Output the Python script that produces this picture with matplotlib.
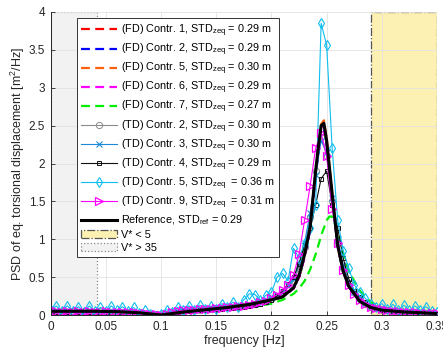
import matplotlib
matplotlib.use('Agg')
import matplotlib.pyplot as plt
import numpy as np

plt.rcParams['font.family'] = ['Liberation Sans', 'DejaVu Sans']
plt.rcParams['mathtext.fontset'] = 'custom'
plt.rcParams['mathtext.rm'] = 'Liberation Sans'
plt.rcParams['mathtext.it'] = 'Liberation Sans'

# frequency grid of the FD / reference spectra
f_fd = [0, 0.02, 0.04, 0.06, 0.08, 0.10, 0.12, 0.14, 0.16, 0.18, 0.20, 0.21, 0.22,
        0.225, 0.23, 0.235, 0.24, 0.2425, 0.245, 0.2475, 0.25, 0.2525, 0.255, 0.26,
        0.265, 0.27, 0.28, 0.29, 0.30, 0.32, 0.35]

fd1 = [0.05, 0.05, 0.05, 0.045, 0.03, 0.0, 0.04, 0.07, 0.10, 0.14, 0.20, 0.24, 0.35,
       0.50, 0.77, 1.13, 1.85, 2.17, 2.46, 2.48, 2.26, 1.92, 1.57, 0.90, 0.57, 0.38,
       0.18, 0.10, 0.065, 0.04, 0.02]
fd2 = [0.05, 0.05, 0.05, 0.045, 0.03, 0.0, 0.04, 0.07, 0.10, 0.14, 0.20, 0.24, 0.35,
       0.50, 0.76, 1.12, 1.83, 2.15, 2.44, 2.46, 2.25, 1.91, 1.56, 0.90, 0.57, 0.38,
       0.18, 0.10, 0.065, 0.04, 0.02]
fd5 = [0.05, 0.05, 0.05, 0.045, 0.03, 0.0, 0.04, 0.07, 0.10, 0.14, 0.20, 0.24, 0.36,
       0.51, 0.78, 1.16, 1.88, 2.22, 2.52, 2.57, 2.33, 1.97, 1.61, 0.92, 0.58, 0.39,
       0.18, 0.10, 0.065, 0.04, 0.02]
fd6 = [0.05, 0.05, 0.05, 0.045, 0.03, 0.0, 0.04, 0.07, 0.10, 0.14, 0.20, 0.24, 0.35,
       0.50, 0.77, 1.14, 1.86, 2.19, 2.48, 2.50, 2.28, 1.93, 1.58, 0.91, 0.58, 0.38,
       0.18, 0.10, 0.065, 0.04, 0.02]
fd7 = [0.04, 0.04, 0.04, 0.04, 0.03, 0.01, 0.03, 0.05, 0.07, 0.10, 0.15, 0.20, 0.28,
       0.35, 0.45, 0.60, 0.80, 0.92, 1.05, 1.15, 1.25, 1.30, 1.30, 1.10, 0.80, 0.58,
       0.32, 0.17, 0.10, 0.05, 0.02]
ref = [0.05, 0.05, 0.05, 0.045, 0.03, 0.0, 0.04, 0.07, 0.10, 0.14, 0.20, 0.24, 0.36,
       0.52, 0.80, 1.15, 1.90, 2.22, 2.50, 2.53, 2.30, 1.95, 1.60, 0.92, 0.58, 0.38,
       0.18, 0.10, 0.065, 0.04, 0.02]

# frequency grid of the TD spectra
f_td = [0.000, 0.005, 0.010, 0.015, 0.020, 0.025, 0.030, 0.035, 0.040, 0.045,
        0.050, 0.055, 0.060, 0.065, 0.070, 0.075, 0.080, 0.085, 0.090, 0.095,
        0.100, 0.105, 0.110, 0.115, 0.120, 0.125, 0.130, 0.135, 0.140, 0.145,
        0.150, 0.155, 0.160, 0.165, 0.170, 0.175, 0.180, 0.185, 0.190, 0.195,
        0.200, 0.205, 0.210, 0.215, 0.220, 0.225, 0.230, 0.235, 0.240, 0.245,
        0.250, 0.255, 0.260, 0.265, 0.270, 0.275, 0.280, 0.285, 0.290, 0.295,
        0.300, 0.305, 0.310, 0.315, 0.320, 0.325, 0.330, 0.335, 0.340, 0.345, 0.350]

td2 = [0.05, 0.04, 0.05, 0.045, 0.05, 0.04, 0.05, 0.045, 0.04, 0.05,
       0.045, 0.04, 0.045, 0.04, 0.035, 0.035, 0.03, 0.02, 0.015, 0.01,
       0.005, 0.02, 0.035, 0.05, 0.055, 0.065, 0.07, 0.07, 0.08, 0.085,
       0.09, 0.09, 0.10, 0.11, 0.11, 0.12, 0.13, 0.14, 0.16, 0.18,
       0.21, 0.25, 0.30, 0.36, 0.45, 0.62, 0.90, 1.30, 1.90, 2.35,
       2.10, 1.50, 0.95, 0.62, 0.42, 0.30, 0.21, 0.15, 0.11, 0.09,
       0.07, 0.06, 0.055, 0.05, 0.04, 0.04, 0.035, 0.03, 0.03, 0.025, 0.02]
td3 = [0.04, 0.05, 0.045, 0.04, 0.05, 0.045, 0.04, 0.05, 0.045, 0.04,
       0.05, 0.045, 0.04, 0.04, 0.04, 0.03, 0.03, 0.025, 0.01, 0.005,
       0.01, 0.025, 0.04, 0.045, 0.06, 0.06, 0.065, 0.075, 0.08, 0.08,
       0.09, 0.10, 0.10, 0.105, 0.115, 0.12, 0.13, 0.145, 0.17, 0.19,
       0.22, 0.26, 0.31, 0.38, 0.48, 0.66, 0.95, 1.35, 1.85, 2.30,
       2.15, 1.55, 1.00, 0.66, 0.44, 0.31, 0.22, 0.16, 0.12, 0.09,
       0.075, 0.06, 0.055, 0.05, 0.045, 0.04, 0.035, 0.03, 0.03, 0.025, 0.02]
td4 = [0.04, 0.04, 0.04, 0.045, 0.04, 0.04, 0.045, 0.04, 0.04, 0.04,
       0.04, 0.04, 0.04, 0.035, 0.035, 0.03, 0.025, 0.02, 0.01, 0.0,
       0.0, 0.015, 0.03, 0.04, 0.05, 0.055, 0.06, 0.065, 0.07, 0.075,
       0.08, 0.085, 0.09, 0.095, 0.10, 0.11, 0.12, 0.13, 0.15, 0.17,
       0.20, 0.25, 0.32, 0.41, 0.50, 0.68, 0.92, 1.15, 1.45, 1.80,
       1.90, 1.45, 1.15, 0.75, 0.48, 0.32, 0.24, 0.17, 0.12, 0.09,
       0.07, 0.06, 0.05, 0.045, 0.04, 0.035, 0.03, 0.03, 0.025, 0.02, 0.02]
td5 = [0.06, 0.12, 0.05, 0.12, 0.05, 0.11, 0.04, 0.12, 0.05, 0.10,
       0.05, 0.12, 0.06, 0.11, 0.05, 0.10, 0.03, 0.06, 0.01, -0.01,
       0.02, 0.07, 0.04, 0.10, 0.06, 0.12, 0.07, 0.13, 0.08, 0.12,
       0.08, 0.15, 0.10, 0.17, 0.11, 0.20, 0.28, 0.27, 0.20, 0.26,
       0.30, 0.50, 0.55, 0.45, 0.88, 0.75, 0.95, 1.15, 1.45, 3.85,
       3.56, 2.20, 1.25, 0.85, 0.62, 0.40, 0.30, 0.22, 0.15, 0.10,
       0.15, 0.08, 0.14, 0.07, 0.13, 0.06, 0.12, 0.06, 0.11, 0.05, 0.04]
td9 = [0.05, 0.05, 0.045, 0.05, 0.045, 0.05, 0.045, 0.05, 0.045, 0.045,
       0.05, 0.045, 0.04, 0.045, 0.04, 0.035, 0.03, 0.025, 0.015, 0.01,
       0.005, 0.02, 0.04, 0.05, 0.06, 0.065, 0.07, 0.075, 0.08, 0.085,
       0.09, 0.095, 0.10, 0.11, 0.115, 0.12, 0.13, 0.15, 0.17, 0.19,
       0.22, 0.27, 0.33, 0.40, 0.53, 0.80, 1.25, 1.70, 2.20, 2.40,
       2.10, 1.40, 0.95, 0.60, 0.40, 0.28, 0.20, 0.15, 0.11, 0.09,
       0.075, 0.065, 0.055, 0.05, 0.045, 0.04, 0.035, 0.03, 0.03, 0.025, 0.025]

x_ticks = [0, 0.05, 0.1, 0.15, 0.2, 0.25, 0.3, 0.35]
x_ticklabels = ['0', '0.05', '0.1', '0.15', '0.2', '0.25', '0.3', '0.35']
y_ticks = [0, 0.5, 1, 1.5, 2, 2.5, 3, 3.5, 4]
y_ticklabels = ['0', '0.5', '1', '1.5', '2', '2.5', '3', '3.5', '4']
low_v_band = (0.29, 0.35)   # V* < 5
high_v_band = (0.0, 0.042)  # V* > 35

fig = plt.figure(figsize=(4.43, 3.52), dpi=100)
ax = fig.add_axes([0.1145, 0.105, 0.872, 0.861])
ax.set_axisbelow('line')

h_low = ax.axvspan(low_v_band[0], low_v_band[1], facecolor='#fcf0b2', edgecolor='#555555',
                   linestyle='-.', linewidth=0.9, zorder=1)
h_high = ax.axvspan(high_v_band[0], high_v_band[1], facecolor='#f2f2f2', edgecolor='#888888',
                    linestyle=':', linewidth=0.9, zorder=1)

dash = (4, 2.4)
std = r'STD$_{\mathrm{zeq}}$'
ax.plot(f_fd, fd1, color='#ff0000', lw=1.6, dashes=dash, label='(FD) Contr. 1, ' + std + ' = 0.29 m')
ax.plot(f_fd, fd2, color='#0000ff', lw=1.6, dashes=dash, label='(FD) Contr. 2, ' + std + ' = 0.29 m')
ax.plot(f_fd, fd5, color='#ff6010', lw=1.6, dashes=dash, label='(FD) Contr. 5, ' + std + ' = 0.30 m')
ax.plot(f_fd, fd6, color='#ff00ff', lw=1.6, dashes=dash, label='(FD) Contr. 6, ' + std + ' = 0.29 m')
ax.plot(f_fd, fd7, color='#00ee00', lw=1.6, dashes=dash, label='(FD) Contr. 7, ' + std + ' = 0.27 m')

ax.plot(f_td, td2, color='#8c8c8c', lw=0.8, marker='o', ms=4.5, mfc='none', mew=0.7,
        label='(TD) Contr. 2, ' + std + ' = 0.30 m')
ax.plot(f_td, td3, color='#1b8ad8', lw=0.8, marker='x', ms=4, mew=0.8,
        label='(TD) Contr. 3, ' + std + ' = 0.30 m')
ax.plot(f_td, td4, color='#111111', lw=0.8, marker='s', ms=3.5, mfc='none', mew=0.7,
        label='(TD) Contr. 4, ' + std + ' = 0.29 m')
ax.plot(f_td, td5, color='#10bdf0', lw=0.8, marker='d', ms=5.5, mfc='none', mew=0.8,
        label='(TD) Contr. 5, ' + std + '  = 0.36 m')
ax.plot(f_td, td9, color='#ff00ff', lw=0.8, marker='>', ms=6, mfc='none', mew=0.9,
        label='(TD) Contr. 9, ' + std + '  = 0.31 m')
ax.plot(f_fd, ref, color='black', lw=2.2, label=r'Reference, STD$_{\mathrm{ref}}$ = 0.29')

ax.set_xlim(0, 0.35)
ax.set_ylim(0, 4)
ax.set_xticks(x_ticks)
ax.set_xticklabels(x_ticklabels)
ax.set_yticks(y_ticks)
ax.set_yticklabels(y_ticklabels)
ax.tick_params(direction='in', length=3, width=0.6, labelsize=8.5, colors='#262626', pad=4)
ax.grid(True, color='#e3e3e3', linewidth=0.6)
for s in ['top', 'right']:
    ax.spines[s].set_visible(False)
for s in ['left', 'bottom']:
    ax.spines[s].set_linewidth(0.7)
    ax.spines[s].set_color('#262626')

ax.set_xlabel('frequency [Hz]', fontsize=9, color='#262626', labelpad=2)
ax.set_ylabel('PSD of eq. torsional displacement [m$^2$/Hz]', fontsize=9, color='#262626',
              labelpad=1)

handles, labels = ax.get_legend_handles_labels()
handles = handles + [h_low, h_high]
labels = labels + ['V* < 5', 'V* > 35']
leg = ax.legend(handles, labels, loc='upper left', bbox_to_anchor=(0.068, 0.979),
                borderaxespad=0, fontsize=7.8, handlelength=3.3, handletextpad=0.35,
                labelspacing=0.25, fancybox=False, framealpha=1, edgecolor='#333333',
                borderpad=0.4)
leg.get_frame().set_linewidth(0.7)

fig.savefig('out.png', dpi=100)
